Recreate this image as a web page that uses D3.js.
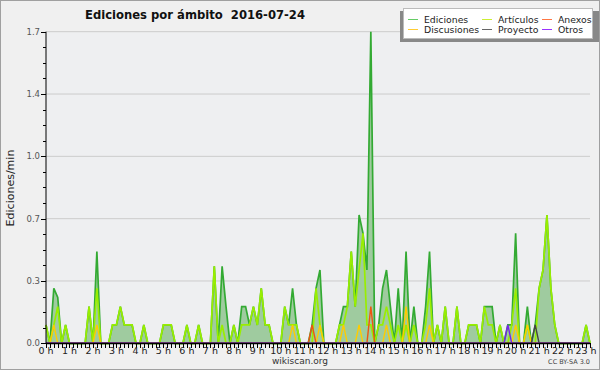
<!DOCTYPE html>
<html><head><meta charset="utf-8">
<script src="https://cdn.jsdelivr.net/npm/d3@7"></script>
<style>html,body{margin:0;padding:0;background:#f0f0f0;}svg{display:block;}</style>
</head><body>
<svg id="c" width="600" height="370"></svg>
<script>
// 10-minute bins starting at 00:00 (value = edits per minute)
const binMinutes = [];
for (let i = 0; i < 140; i++) binMinutes.push(i * 10);

const ediciones = [0.1,0,0.3,0.25,0,0.1,0,0,0,0, 0,0.2,0,0.5,0,0,0,0.1,0.1,0.2, 0.1,0.1,0.1,0,0,0.1,0,0,0,0,
 0.1,0.1,0.1,0,0,0,0.1,0,0,0.1, 0,0,0,0.42,0,0.42,0.2,0,0.1,0, 0.2,0.2,0.1,0.2,0.1,0.3,0.1,0.1,0,0,
 0,0.2,0.1,0.3,0.1,0,0,0,0.1,0.3, 0.4,0,0,0,0,0.1,0.2,0.2,0.5,0.2, 0.7,0.6,0.4,1.7,0,0.1,0.3,0.4,0.2,0,
 0.3,0,0.5,0,0.2,0,0,0.2,0.5,0, 0.1,0,0.2,0,0,0.2,0,0,0.1,0.1, 0.1,0,0.2,0.2,0.2,0,0.1,0,0.1,0.1,
 0.6,0,0,0.2,0,0.1,0.3,0.4,0.7,0.3, 0.1,0,0,0,0,0,0,0,0.1,0];
const articulos = [0.1,0,0.1,0.2,0,0.1,0,0,0,0, 0,0.2,0,0.3,0,0,0,0.1,0.1,0.2, 0.1,0.1,0.1,0,0,0.1,0,0,0,0,
 0.1,0.1,0.1,0,0,0,0.1,0,0,0.1, 0,0,0,0.42,0,0.1,0,0,0.1,0, 0.1,0.1,0.1,0.2,0.1,0.3,0.1,0.1,0,0,
 0,0.2,0.1,0.1,0.1,0,0,0,0,0.3, 0.1,0,0,0,0,0.1,0.1,0.2,0.5,0.2, 0.4,0.6,0.1,0.1,0,0.1,0.1,0.2,0.1,0,
 0.1,0,0.1,0,0.1,0,0,0.1,0.3,0, 0.1,0,0.2,0,0,0.2,0,0,0.1,0.1, 0.1,0,0.2,0.1,0.1,0,0.1,0,0,0.1,
 0.3,0,0,0.1,0,0,0.3,0.4,0.7,0.3, 0.1,0,0,0,0,0,0,0,0.1,0];
const discusiones = [0,0,0.1,0,0,0,0,0,0,0, 0,0,0,0.1,0,0,0,0,0,0, 0,0,0,0,0,0,0,0,0,0,
 0,0,0,0,0,0,0,0,0,0, 0,0,0,0,0,0,0,0,0,0, 0,0,0,0,0,0,0,0,0,0,
 0,0,0,0.1,0,0,0,0,0,0, 0.1,0,0,0,0,0,0.1,0,0,0, 0.1,0,0,0,0,0,0,0.1,0,0,
 0,0,0.2,0,0,0,0,0,0.1,0, 0,0,0,0,0,0,0,0,0,0, 0,0,0,0,0,0,0,0,0,0,
 0.1,0,0,0.1,0,0,0,0,0,0, 0,0,0,0,0,0,0,0,0,0];
const anexos = binMinutes.map(() => 0);
anexos[68] = 0.1; anexos[83] = 0.2;
const proyecto = binMinutes.map(() => 0);
proyecto[125] = 0.1;
const otros = binMinutes.map(() => 0);
otros[118] = 0.1;

const yTicks = [0, 0.34, 0.68, 1.02, 1.36, 1.7];
const hourLabels = d3.range(0, 24).map(h => h + " h");
const legendItems = [
  {name: "Ediciones", color: "#66cc66"},
  {name: "Artículos", color: "#ccee33"},
  {name: "Anexos", color: "#ff7744"},
  {name: "Discusiones", color: "#ffcc33"},
  {name: "Proyecto", color: "#666666"},
  {name: "Otros", color: "#9933ff"}
];

const svg = d3.select("#c");
const W = 600, H = 370;
const x = d3.scaleLinear().domain([0, 1390]).range([46, 590]);
const y = d3.scaleLinear().domain([0, 1.7]).range([343.3, 31.7]);
const font = "DejaVu Sans, sans-serif";

// frame
svg.append("rect").attr("x", 0).attr("y", 0).attr("width", W).attr("height", H).attr("fill", "#f0f0f0");
svg.append("rect").attr("x", 0.5).attr("y", 0.5).attr("width", W - 1).attr("height", H - 1)
  .attr("fill", "none").attr("stroke", "#a0a0a0").attr("stroke-width", 1);
// plot bg
svg.append("rect").attr("x", 46).attr("y", 31.7).attr("width", 544).attr("height", 311.6).attr("fill", "#eeeff1");

// grid
svg.append("g").selectAll("line").data(yTicks.slice(1)).join("line")
  .attr("x1", 46).attr("x2", 590).attr("y1", d => y(d)).attr("y2", d => y(d))
  .attr("stroke", "#cccccc").attr("stroke-width", 1);

const pts = binMinutes.map((m, i) => i);
const area = d3.area().x(i => x(binMinutes[i])).y0(y(0)).y1(i => y(ediciones[i]));
const line = arr => d3.line().x(i => x(binMinutes[i])).y(i => y(arr[i]))(pts);

svg.append("path").attr("d", area(pts)).attr("fill", "#9fcb9f");
svg.append("path").attr("d", line(ediciones)).attr("fill", "none").attr("stroke", "#33aa33").attr("stroke-width", 1.7);
svg.append("path").attr("d", line(articulos)).attr("fill", "none").attr("stroke", "#99ee00").attr("stroke-width", 1.7);
svg.append("path").attr("d", line(discusiones)).attr("fill", "none").attr("stroke", "#ffcc00").attr("stroke-width", 1.4);
svg.append("path").attr("d", line(anexos)).attr("fill", "none").attr("stroke", "#ee5511").attr("stroke-width", 1.4);
svg.append("path").attr("d", line(proyecto)).attr("fill", "none").attr("stroke", "#444444").attr("stroke-width", 1.4);
svg.append("path").attr("d", line(otros)).attr("fill", "none").attr("stroke", "#7722ee").attr("stroke-width", 1.4);

// y axis
const yMinor = d3.range(0, 1.7001, 0.085);
const gy = svg.append("g");
gy.append("line").attr("x1", 46).attr("x2", 46).attr("y1", y(1.7)).attr("y2", y(0)).attr("stroke", "#000");
gy.selectAll("line.mn").data(yMinor).join("line").attr("class", "mn")
  .attr("x1", 43).attr("x2", 46).attr("y1", d => Math.round(y(d)) + 0.5).attr("y2", d => Math.round(y(d)) + 0.5).attr("stroke", "#000");
gy.selectAll("line.mj").data(yTicks).join("line").attr("class", "mj")
  .attr("x1", 41).attr("x2", 46).attr("y1", d => Math.round(y(d)) + 0.5).attr("y2", d => Math.round(y(d)) + 0.5).attr("stroke", "#000");
gy.selectAll("text").data(yTicks).join("text")
  .attr("x", 40).attr("y", d => y(d) + 3).attr("text-anchor", "end")
  .attr("font-family", font).attr("font-size", 8.5).attr("fill", "#555")
  .text(d => d3.format(".1f")(d));
svg.append("text").attr("transform", "translate(14,188) rotate(-90)").attr("text-anchor", "middle")
  .attr("font-family", font).attr("font-size", 11).attr("fill", "#222").text("Ediciones/min");

// x axis
const gx = svg.append("g");
gx.append("line").attr("x1", 46).attr("x2", 590).attr("y1", 343.5).attr("y2", 343.5).attr("stroke", "#000").attr("stroke-width", 1.5);
gx.selectAll("line.t").data(binMinutes).join("line").attr("class", "t")
  .attr("x1", d => Math.round(x(d)) + 0.5).attr("x2", d => Math.round(x(d)) + 0.5)
  .attr("y1", 343).attr("y2", 348).attr("stroke", "#000");
gx.selectAll("text").data(hourLabels).join("text")
  .attr("x", (d, i) => x(i * 60)).attr("y", 354).attr("text-anchor", "middle")
  .attr("font-family", font).attr("font-size", 9.5).attr("fill", "#222").text(d => d);

svg.append("text").attr("x", 300).attr("y", 364).attr("text-anchor", "middle")
  .attr("font-family", font).attr("font-size", 9).attr("fill", "#333").text("wikiscan.org");
svg.append("text").attr("x", 590).attr("y", 364).attr("text-anchor", "end")
  .attr("font-family", font).attr("font-size", 6.5).attr("fill", "#444").text("CC BY-SA 3.0");

// title
svg.append("text").attr("x", 85).attr("y", 19).attr("font-family", font)
  .attr("font-weight", "bold").attr("font-size", 11.6).attr("fill", "#111").attr("xml:space", "preserve")
  .text("Ediciones por ámbito  2016-07-24");

// legend
const lg = svg.append("g");
lg.append("rect").attr("x", 400).attr("y", 11).attr("width", 199).attr("height", 31).attr("fill", "#888");
lg.append("rect").attr("x", 403.5).attr("y", 8.5).attr("width", 189).attr("height", 30).attr("fill", "#fff").attr("stroke", "#bbb");
const colX = [408, 482, 542];
const rowY = [19.5, 29.5];
legendItems.forEach((d, i) => {
  const cx = colX[i % 3], cy = rowY[Math.floor(i / 3)];
  lg.append("line").attr("x1", cx).attr("x2", cx + 10).attr("y1", cy).attr("y2", cy).attr("stroke", d.color).attr("stroke-width", 1);
  lg.append("text").attr("x", cx + 16).attr("y", cy + 3.5).attr("font-family", font)
    .attr("font-size", 9.3).attr("fill", "#222").text(d.name);
});
</script>
</body></html>
